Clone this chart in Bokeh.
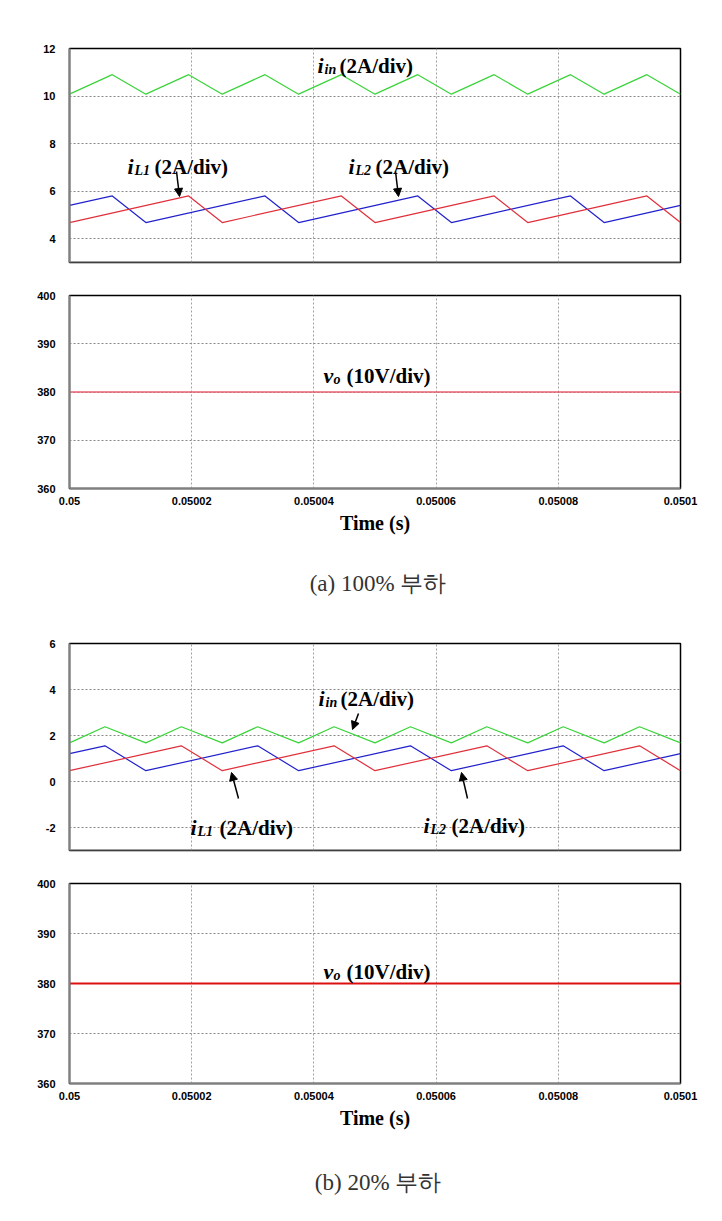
from bokeh.plotting import figure
from bokeh.layouts import column
from bokeh.models import FixedTicker, Label, Arrow, NormalHead, Range1d, Span
from bokeh.embed import file_html
from bokeh.resources import INLINE

# ---------------- data ----------------
x_ticks = [0.05, 0.05002, 0.05004, 0.05006, 0.05008, 0.0501]
x_tick_labels = ["0.05", "0.05002", "0.05004", "0.05006", "0.05008", "0.0501"]
yticks_a = [4, 6, 8, 10, 12]
ytick_labels_a = ["4", "6", "8", "10", "12"]
yticks_b = [-2, 0, 2, 4, 6]
ytick_labels_b = ["-2", "0", "2", "4", "6"]
yticks_v = [360, 370, 380, 390, 400]
ytick_labels_v = ["360", "370", "380", "390", "400"]

# (a) 100% load
t_il1_a = [0.05, 0.0500195, 0.050025, 0.0500445, 0.05005, 0.0500695, 0.050075, 0.0500945, 0.0501]
il1_a = [4.68, 5.80, 4.68, 5.80, 4.68, 5.80, 4.68, 5.80, 4.68]
t_il2_a = [0.05, 0.050007, 0.0500125, 0.050032, 0.0500375, 0.050057, 0.0500625, 0.050082, 0.0500875, 0.0501]
il2_a = [5.40, 5.80, 4.68, 5.80, 4.68, 5.80, 4.68, 5.80, 4.68, 5.40]
t_iin_a = [0.05, 0.050007, 0.0500125, 0.0500195, 0.050025, 0.050032, 0.0500375, 0.0500445, 0.05005,
           0.050057, 0.0500625, 0.0500695, 0.050075, 0.050082, 0.0500875, 0.0500945, 0.0501]
iin_a = [10.08, 10.90, 10.08, 10.90, 10.08, 10.90, 10.08, 10.90, 10.08,
         10.90, 10.08, 10.90, 10.08, 10.90, 10.08, 10.90, 10.08]
t_vo = [0.05, 0.0501]
vo_a = [380, 380]

# (b) 20% load
t_il1_b = [0.05, 0.0500183, 0.050025, 0.0500433, 0.05005, 0.0500683, 0.050075, 0.0500933, 0.0501]
il1_b = [0.47, 1.55, 0.47, 1.55, 0.47, 1.55, 0.47, 1.55, 0.47]
t_il2_b = [0.05, 0.0500058, 0.0500125, 0.0500308, 0.0500375, 0.0500558, 0.0500625, 0.0500808, 0.0500875, 0.0501]
il2_b = [1.21, 1.55, 0.47, 1.55, 0.47, 1.55, 0.47, 1.55, 0.47, 1.21]
t_iin_b = [0.05, 0.0500058, 0.0500125, 0.0500183, 0.050025, 0.0500308, 0.0500375, 0.0500433, 0.05005,
           0.0500558, 0.0500625, 0.0500683, 0.050075, 0.0500808, 0.0500875, 0.0500933, 0.0501]
iin_b = [1.68, 2.38, 1.68, 2.38, 1.68, 2.38, 1.68, 2.38, 1.68,
         2.38, 1.68, 2.38, 1.68, 2.38, 1.68, 2.38, 1.68]
vo_b = [380, 380]

# ---------------- styles ----------------
GREEN = "#3ad43a"
BLUE = "#2222cc"
RED = "#e0303c"
W = 714
X0, X1 = 0.05, 0.0501


def make_panel(height, top, bottom, y0, y1, yticks, ylabels, show_x):
    p = figure(width=W, height=height, x_range=Range1d(X0, X1), y_range=Range1d(y0, y1),
               output_backend="svg", toolbar_location=None,
               min_border_left=69, min_border_right=34, min_border_top=top, min_border_bottom=bottom)
    p.outline_line_color = "black"
    p.outline_line_width = 1.5
    p.background_fill_color = "white"
    p.border_fill_color = "white"
    for ax in (p.xaxis[0], p.yaxis[0]):
        ax.axis_line_color = "#808080"
        ax.axis_line_width = 2
        ax.major_tick_out = 0
        ax.major_tick_in = 0
        ax.minor_tick_line_color = None
        ax.major_tick_line_color = None
        ax.major_label_text_font = "Liberation Sans"
        ax.major_label_text_font_style = "bold"
        ax.major_label_text_font_size = "11px"
        ax.major_label_text_color = "black"
    p.xaxis.ticker = FixedTicker(ticks=x_ticks)
    p.yaxis.ticker = FixedTicker(ticks=yticks)
    p.yaxis.major_label_overrides = dict(zip(yticks, ylabels))
    p.yaxis.major_label_standoff = 14
    p.xgrid.ticker = FixedTicker(ticks=x_ticks)
    if show_x:
        p.xaxis.major_label_overrides = dict(zip(x_ticks, x_tick_labels))
        p.xaxis.major_label_standoff = 8
        p.xaxis.axis_label = "Time (s)"
        p.xaxis.axis_label_text_font = "Liberation Serif"
        p.xaxis.axis_label_text_font_style = "bold"
        p.xaxis.axis_label_text_font_size = "20px"
        p.xaxis.axis_label_text_color = "black"
        p.xaxis.axis_label_standoff = 4
    else:
        p.xaxis.visible = False
        p.add_layout(Span(location=y0, dimension="width", line_color="#808080", line_width=2))
    p.xgrid.grid_line_color = "#a0a0a0"
    p.xgrid.grid_line_dash = "2 2"
    p.ygrid.grid_line_color = "#888888"
    p.ygrid.grid_line_dash = "2 2"
    return p


def conv(frame, rng, px, py):
    L, R, T, B = frame
    x0, x1, y0, y1 = rng
    return x0 + (px - L) / (R - L) * (x1 - x0), y1 - (py - T) / (B - T) * (y1 - y0)


def add_label(p, frame, rng, px, py, main, sub, tail, sub_dx, tail_dx):
    for text, dx, dy, size, style in ((main, 0, 0, "22px", "bold italic"),
                                      (sub, sub_dx, 4, "14px", "bold italic"),
                                      (tail, tail_dx, 0, "21px", "bold")):
        x, y = conv(frame, rng, px + dx, py + dy)
        p.add_layout(Label(x=x, y=y, text=text, text_font="Liberation Serif",
                           text_font_size=size, text_font_style=style, text_color="black",
                           text_align="left", text_baseline="alphabetic"))


def add_arrow(p, frame, rng, sx, sy, ex, ey):
    xs, ys = conv(frame, rng, sx, sy)
    xe, ye = conv(frame, rng, ex, ey)
    p.add_layout(Arrow(end=NormalHead(size=8, fill_color="black", line_color="black", line_width=1),
                       x_start=xs, y_start=ys, x_end=xe, y_end=ye,
                       line_color="black", line_width=1.5))


def caption(text, height, y_frac):
    c = figure(width=W, height=height, x_range=Range1d(0, 1), y_range=Range1d(0, 1),
               output_backend="svg", toolbar_location=None, min_border=0)
    c.axis.visible = False
    c.grid.visible = False
    c.outline_line_color = None
    c.text(x=[0.505], y=[y_frac], text=[text], text_font="Noto Sans CJK KR",
           text_font_size="23px", text_color="#333333", text_align="center",
           text_baseline="middle")
    return c


# ---------- panel 1 : (a) currents ----------
F1 = (69, 680, 48, 262)
R1 = (X0, X1, 3, 12)
p1 = make_panel(272, 48, 10, 3, 12, yticks_a, ytick_labels_a, False)
p1.line(t_iin_a, iin_a, line_color=GREEN, line_width=1.2)
p1.line(t_il2_a, il2_a, line_color=BLUE, line_width=1.2)
p1.line(t_il1_a, il1_a, line_color=RED, line_width=1.2)
add_label(p1, F1, R1, 317, 65, "i", "in", "(2A/div)", 7, 22)
add_label(p1, F1, R1, 127, 166, "i", "L1", "(2A/div)", 7, 27)
add_label(p1, F1, R1, 348, 166, "i", "L2", "(2A/div)", 7, 27)
add_arrow(p1, F1, R1, 176, 171, 179, 196)
add_arrow(p1, F1, R1, 395, 171, 398, 196)

# ---------- panel 2 : (a) voltage ----------
F2 = (69, 680, 295, 488)
R2 = (X0, X1, 360, 400)
p2 = make_panel(268, 23, 52, 360, 400, yticks_v, ytick_labels_v, True)
p2.line(t_vo, vo_a, line_color="#e86070", line_width=1.3)
add_label(p2, F2, R2, 323, 375, "v", "o", "(10V/div)", 10, 23)

cap1 = caption("(a) 100% 부하", 80, 1 - 43 / 80)

# ---------- panel 3 : (b) currents ----------
F3 = (69, 680, 643, 850)
R3 = (X0, X1, -3, 6)
p3 = make_panel(242, 23, 12, -3, 6, yticks_b, ytick_labels_b, False)
p3.line(t_iin_b, iin_b, line_color=GREEN, line_width=1.2)
p3.line(t_il2_b, il2_b, line_color=BLUE, line_width=1.2)
p3.line(t_il1_b, il1_b, line_color=RED, line_width=1.2)
add_label(p3, F3, R3, 318, 698, "i", "in", "(2A/div)", 7, 22)
add_label(p3, F3, R3, 190, 827, "i", "L1", "(2A/div)", 7, 29)
add_label(p3, F3, R3, 423, 825, "i", "L2", "(2A/div)", 7, 28)
add_arrow(p3, F3, R3, 358, 713, 352, 729)
add_arrow(p3, F3, R3, 238, 798, 231, 772)
add_arrow(p3, F3, R3, 467, 798, 461, 772)

# ---------- panel 4 : (b) voltage ----------
F4 = (69, 680, 883, 1083)
R4 = (X0, X1, 360, 400)
p4 = make_panel(273, 21, 52, 360, 400, yticks_v, ytick_labels_v, True)
p4.line(t_vo, vo_b, line_color="#dd1010", line_width=2.2)
add_label(p4, F4, R4, 323, 971, "v", "o", "(10V/div)", 10, 23)

cap2 = caption("(b) 20% 부하", 75, 1 - 47 / 75)

layout = column(p1, p2, cap1, p3, p4, cap2, spacing=0)
open("out.html", "w").write(file_html(layout, INLINE))
